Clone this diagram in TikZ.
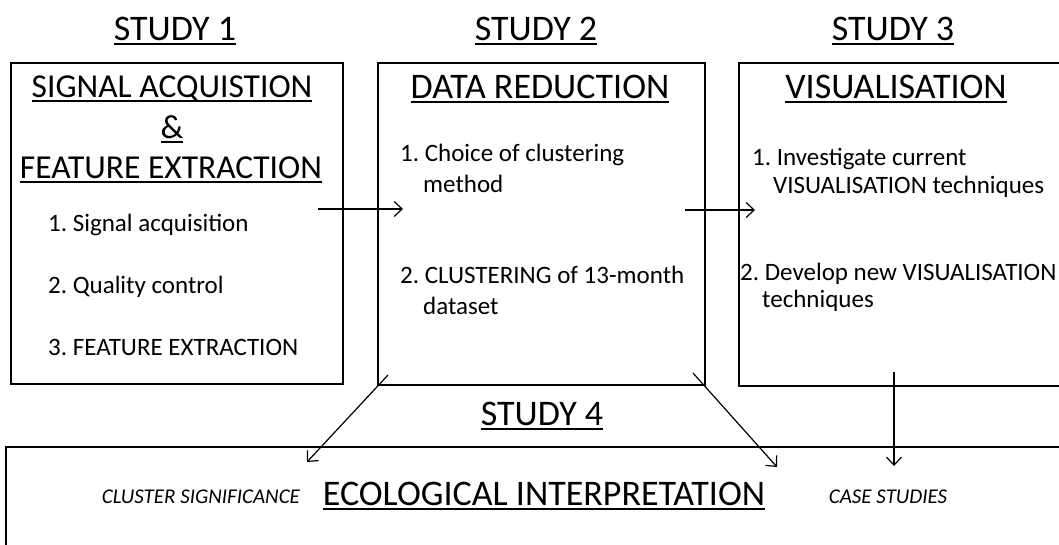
\documentclass[tikz,border=0pt]{standalone}
\usepackage{fontspec}
\setmainfont{Carlito}
\usetikzlibrary{arrows.meta}
\frenchspacing
% heavy underline below a heading
\newcommand\uln[1]{\leavevmode\setbox0=\hbox{#1}\rlap{\raisebox{-5pt}{\rule{\wd0}{1.8pt}}}\box0}

\begin{document}
\begin{tikzpicture}[x=1pt,y=-1pt]
\tikzset{
    box/.style={draw, line width=1.5pt, anchor=north west, inner sep=0pt},
    head/.style={font=\fontsize{36}{40}\selectfont, anchor=base, inner sep=0pt},
    title/.style={font=\fontsize{33.5}{38}\selectfont, anchor=base, inner sep=0pt},
    item/.style={font=\fontsize{25}{30}\selectfont, anchor=base west, inner sep=0pt},
    note/.style={font=\fontsize{21}{25}\selectfont\itshape, anchor=base, inner sep=0pt},
    flow/.style={line width=1.2pt, -{Straight Barb[length=8pt,width=15pt]}},
}
\useasboundingbox (0,0) rectangle (1059,544);

% The four boxes
\node[box, minimum width=332pt, minimum height=321pt] (box1) at (10,62) {};
\node[box, minimum width=327pt, minimum height=322pt] (box2) at (377,62) {};
\node[box, minimum width=400pt, minimum height=323pt] (box3) at (738,62) {};
\node[box, minimum width=1100pt, minimum height=150pt] (box4) at (5,446) {};

% Study headings
\foreach \i/\x in {1/175,2/536,3/893} {
    \node[head] (study\i) at (\x,40) {\uln{STUDY \i}};
}
\node[head] (study4) at (542,425) {\uln{STUDY 4}};

% Study 1
\node[title] (acq) at (172,97) {\uln{SIGNAL ACQUISTION}};
\node[title] (amp) at (172,138) {\uln{\&}};
\node[title] (feat) at (171,178) {\uln{FEATURE EXTRACTION}};
\node[item] (s1a) at (48,231) {1. Signal acquisition};
\node[item] (s1b) at (48,293) {2. Quality control};
\node[item] (s1c) at (48,355) {3. FEATURE EXTRACTION};

% Study 2
\node[head] (red) at (540,98) {\uln{DATA REDUCTION}};
\node[item] (s2a) at (400,161) {1. Choice of clustering};
\node[item] (s2b) at (423,192) {method};
\node[item] (s2c) at (400,283) {2. CLUSTERING of 13-month};
\node[item] (s2d) at (423,314) {dataset};

% Study 3
\node[head] (vis) at (896,98) {\uln{VISUALISATION}};
\node[item] (s3a) at (752,165) {1. Investigate current};
\node[item] (s3b) at (773,193) {VISUALISATION techniques};
\node[item] (s3c) at (740,280) {2. Develop new VISUALISATION};
\node[item] (s3d) at (762,307) {techniques};

% Study 4
\node[note] (clus) at (201,503) {CLUSTER SIGNIFICANCE};
\node[head] (eco) at (544,505) {\uln{ECOLOGICAL INTERPRETATION}};
\node[note] (case) at (888,503) {CASE STUDIES};

% Arrow ends
\coordinate (a12s) at (318,209);
\coordinate (a12e) at (403,209);
\coordinate (a23s) at (685,210);
\coordinate (a23e) at (755,210);
\coordinate (a24s) at (388,375);
\coordinate (a24e) at (307,462);
\coordinate (b24s) at (693,373);
\coordinate (b24e) at (777,467);
\coordinate (a34s) at (894,372);
\coordinate (a34e) at (894,466);

\draw[flow] (a12s) -- (a12e);
\draw[flow] (a23s) -- (a23e);
\draw[flow] (a24s) -- (a24e);
\draw[flow] (b24s) -- (b24e);
\draw[flow] (a34s) -- (a34e);

\end{tikzpicture}
\end{document}
